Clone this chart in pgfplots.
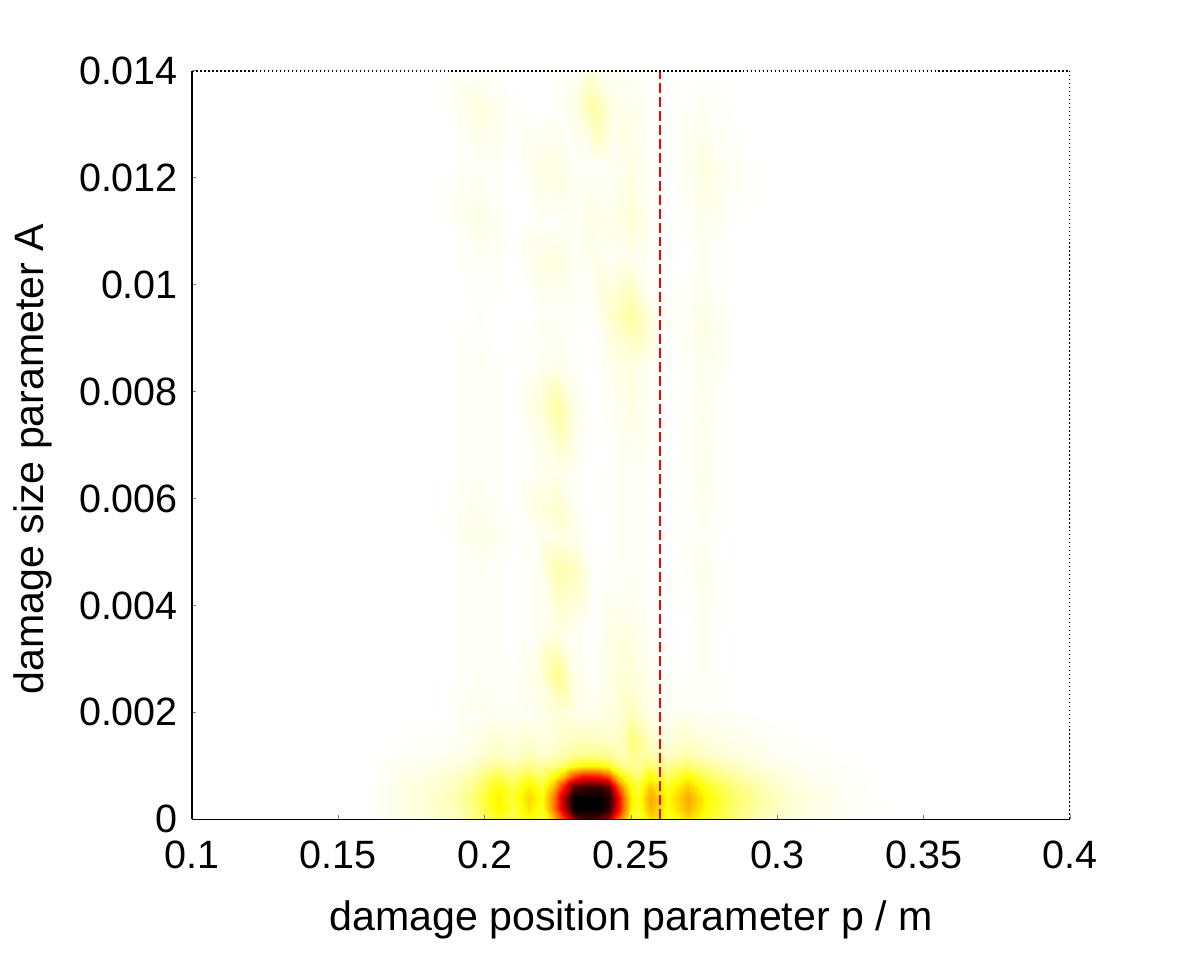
\documentclass[border=0pt]{standalone}
\usepackage{fontspec}
\setmainfont{Liberation Sans}
\usepackage{pgfplots}
\pgfplotsset{compat=1.18}

\begin{document}
\begin{tikzpicture}
\begin{axis}[
  name=ax,
  scale only axis,
  width=220pt, height=187.5pt,
  xmin=0.1, xmax=0.4, ymin=0, ymax=0.014,
  xtick={0.1,0.15,0.2,0.25,0.3,0.35,0.4},
  ytick={0,0.002,0.004,0.006,0.008,0.01,0.012,0.014},
  scaled ticks=false,
  /pgf/number format/assume math mode=true,
  xticklabel style={/pgf/number format/fixed, /pgf/number format/precision=2, yshift=-1.75pt},
  yticklabel style={/pgf/number format/fixed, /pgf/number format/precision=3},
  tick label style={font=\fontsize{9.9}{11}\selectfont},
  label style={font=\fontsize{10.3}{12}\selectfont},
  xlabel style={yshift=-1.3pt},
  ylabel style={xshift=-3.5pt},
  xlabel={damage position parameter p / m},
  ylabel={damage size parameter A},
  axis x line*=bottom, axis y line*=left,
  xtick pos=left, ytick pos=left,
  tick align=inside, major tick length=1pt,
  axis line style={line width=0.4pt},
  axis on top,
  colormap={hotr}{rgb(0pt)=(1,1,1); rgb(2pt)=(1,1,0); rgb(5pt)=(1,0,0); rgb(8pt)=(0,0,0)},
  point meta min=0, point meta max=1,
]
% lower band, fine grid
\addplot[surf, shader=interp, mesh/cols=29, point meta=explicit] coordinates {
(0.16,0)[0] (0.17,0)[0.02] (0.18,0)[0.03] (0.19,0)[0.06] (0.196,0)[0.1] (0.2045,0)[0.22] (0.2095,0)[0.16] (0.215,0)[0.25] (0.2195,0)[0.18] (0.2235,0)[0.35] (0.227,0)[0.55] (0.2305,0)[0.8] (0.2335,0)[0.9] (0.2365,0)[0.9] (0.2395,0)[0.88] (0.2425,0)[0.78] (0.245,0)[0.52] (0.2475,0)[0.35] (0.25,0)[0.22] (0.2525,0)[0.18] (0.2565,0)[0.3] (0.2625,0)[0.2] (0.2695,0)[0.3] (0.276,0)[0.2] (0.285,0)[0.12] (0.295,0)[0.06] (0.305,0)[0.03] (0.32,0)[0.01] (0.34,0)[0]
(0.16,0.0002)[0] (0.17,0.0002)[0.02] (0.18,0.0002)[0.04] (0.19,0.0002)[0.07] (0.196,0.0002)[0.12] (0.2045,0.0002)[0.26] (0.2095,0.0002)[0.19] (0.215,0.0002)[0.29] (0.2195,0.0002)[0.22] (0.2235,0.0002)[0.45] (0.227,0.0002)[0.72] (0.2305,0.0002)[1] (0.2335,0.0002)[1] (0.2365,0.0002)[1] (0.2395,0.0002)[1] (0.2425,0.0002)[0.93] (0.245,0.0002)[0.7] (0.2475,0.0002)[0.45] (0.25,0.0002)[0.26] (0.2525,0.0002)[0.21] (0.2565,0.0002)[0.36] (0.2625,0.0002)[0.24] (0.2695,0.0002)[0.36] (0.276,0.0002)[0.24] (0.285,0.0002)[0.14] (0.295,0.0002)[0.08] (0.305,0.0002)[0.04] (0.32,0.0002)[0.01] (0.34,0.0002)[0]
(0.16,0.0004)[0] (0.17,0.0004)[0.02] (0.18,0.0004)[0.04] (0.19,0.0004)[0.07] (0.196,0.0004)[0.13] (0.2045,0.0004)[0.27] (0.2095,0.0004)[0.2] (0.215,0.0004)[0.31] (0.2195,0.0004)[0.23] (0.2235,0.0004)[0.45] (0.227,0.0004)[0.75] (0.2305,0.0004)[1] (0.2335,0.0004)[1] (0.2365,0.0004)[1] (0.2395,0.0004)[1] (0.2425,0.0004)[0.95] (0.245,0.0004)[0.72] (0.2475,0.0004)[0.45] (0.25,0.0004)[0.27] (0.2525,0.0004)[0.22] (0.2565,0.0004)[0.38] (0.2625,0.0004)[0.25] (0.2695,0.0004)[0.38] (0.276,0.0004)[0.25] (0.285,0.0004)[0.15] (0.295,0.0004)[0.08] (0.305,0.0004)[0.04] (0.32,0.0004)[0.015] (0.34,0.0004)[0]
(0.16,0.0006)[0] (0.17,0.0006)[0.02] (0.18,0.0006)[0.035] (0.19,0.0006)[0.06] (0.196,0.0006)[0.11] (0.2045,0.0006)[0.24] (0.2095,0.0006)[0.18] (0.215,0.0006)[0.27] (0.2195,0.0006)[0.2] (0.2235,0.0006)[0.36] (0.227,0.0006)[0.6] (0.2305,0.0006)[0.88] (0.2335,0.0006)[0.92] (0.2365,0.0006)[0.92] (0.2395,0.0006)[0.92] (0.2425,0.0006)[0.85] (0.245,0.0006)[0.58] (0.2475,0.0006)[0.36] (0.25,0.0006)[0.24] (0.2525,0.0006)[0.19] (0.2565,0.0006)[0.33] (0.2625,0.0006)[0.22] (0.2695,0.0006)[0.33] (0.276,0.0006)[0.22] (0.285,0.0006)[0.13] (0.295,0.0006)[0.07] (0.305,0.0006)[0.035] (0.32,0.0006)[0.01] (0.34,0.0006)[0]
(0.16,0.0008)[0] (0.17,0.0008)[0.015] (0.18,0.0008)[0.03] (0.19,0.0008)[0.05] (0.196,0.0008)[0.085] (0.2045,0.0008)[0.18] (0.2095,0.0008)[0.13] (0.215,0.0008)[0.2] (0.2195,0.0008)[0.15] (0.2235,0.0008)[0.24] (0.227,0.0008)[0.36] (0.2305,0.0008)[0.54] (0.2335,0.0008)[0.62] (0.2365,0.0008)[0.62] (0.2395,0.0008)[0.6] (0.2425,0.0008)[0.52] (0.245,0.0008)[0.35] (0.2475,0.0008)[0.24] (0.25,0.0008)[0.18] (0.2525,0.0008)[0.14] (0.2565,0.0008)[0.25] (0.2625,0.0008)[0.16] (0.2695,0.0008)[0.25] (0.276,0.0008)[0.16] (0.285,0.0008)[0.1] (0.295,0.0008)[0.05] (0.305,0.0008)[0.026] (0.32,0.0008)[0.01] (0.34,0.0008)[0]
(0.16,0.001)[0] (0.17,0.001)[0.01] (0.18,0.001)[0.02] (0.19,0.001)[0.03] (0.196,0.001)[0.05] (0.2045,0.001)[0.11] (0.2095,0.001)[0.08] (0.215,0.001)[0.12] (0.2195,0.001)[0.09] (0.2235,0.001)[0.12] (0.227,0.001)[0.16] (0.2305,0.001)[0.22] (0.2335,0.001)[0.26] (0.2365,0.001)[0.26] (0.2395,0.001)[0.25] (0.2425,0.001)[0.22] (0.245,0.001)[0.16] (0.2475,0.001)[0.12] (0.25,0.001)[0.11] (0.2525,0.001)[0.09] (0.2565,0.001)[0.15] (0.2625,0.001)[0.1] (0.2695,0.001)[0.15] (0.276,0.001)[0.1] (0.285,0.001)[0.06] (0.295,0.001)[0.03] (0.305,0.001)[0.016] (0.32,0.001)[0.006] (0.34,0.001)[0]
(0.16,0.0012)[0] (0.17,0.0012)[0.005] (0.18,0.0012)[0.01] (0.19,0.0012)[0.015] (0.196,0.0012)[0.03] (0.2045,0.0012)[0.06] (0.2095,0.0012)[0.045] (0.215,0.0012)[0.07] (0.2195,0.0012)[0.05] (0.2235,0.0012)[0.06] (0.227,0.0012)[0.08] (0.2305,0.0012)[0.1] (0.2335,0.0012)[0.11] (0.2365,0.0012)[0.11] (0.2395,0.0012)[0.11] (0.2425,0.0012)[0.1] (0.245,0.0012)[0.08] (0.2475,0.0012)[0.07] (0.25,0.0012)[0.11] (0.2525,0.0012)[0.1] (0.2565,0.0012)[0.08] (0.2625,0.0012)[0.055] (0.2695,0.0012)[0.08] (0.276,0.0012)[0.055] (0.285,0.0012)[0.035] (0.295,0.0012)[0.02] (0.305,0.0012)[0.01] (0.32,0.0012)[0.003] (0.34,0.0012)[0]
(0.16,0.0015)[0] (0.17,0.0015)[0.003] (0.18,0.0015)[0.005] (0.19,0.0015)[0.01] (0.196,0.0015)[0.02] (0.2045,0.0015)[0.04] (0.2095,0.0015)[0.03] (0.215,0.0015)[0.04] (0.2195,0.0015)[0.03] (0.2235,0.0015)[0.035] (0.227,0.0015)[0.05] (0.2305,0.0015)[0.06] (0.2335,0.0015)[0.06] (0.2365,0.0015)[0.06] (0.2395,0.0015)[0.06] (0.2425,0.0015)[0.05] (0.245,0.0015)[0.05] (0.2475,0.0015)[0.07] (0.25,0.0015)[0.13] (0.2525,0.0015)[0.11] (0.2565,0.0015)[0.05] (0.2625,0.0015)[0.03] (0.2695,0.0015)[0.05] (0.276,0.0015)[0.03] (0.285,0.0015)[0.02] (0.295,0.0015)[0.01] (0.305,0.0015)[0.005] (0.32,0.0015)[0] (0.34,0.0015)[0]
(0.16,0.002)[0] (0.17,0.002)[0] (0.18,0.002)[0] (0.19,0.002)[0.003] (0.196,0.002)[0.006] (0.2045,0.002)[0.012] (0.2095,0.002)[0.012] (0.215,0.002)[0.012] (0.2195,0.002)[0.02] (0.2235,0.002)[0.03] (0.227,0.002)[0.035] (0.2305,0.002)[0.02] (0.2335,0.002)[0.02] (0.2365,0.002)[0.02] (0.2395,0.002)[0.02] (0.2425,0.002)[0.03] (0.245,0.002)[0.035] (0.2475,0.002)[0.045] (0.25,0.002)[0.06] (0.2525,0.002)[0.05] (0.2565,0.002)[0.02] (0.2625,0.002)[0.012] (0.2695,0.002)[0.012] (0.276,0.002)[0.012] (0.285,0.002)[0.006] (0.295,0.002)[0.003] (0.305,0.002)[0] (0.32,0.002)[0] (0.34,0.002)[0]
};
% upper region, coarse grid
\addplot[surf, shader=interp, mesh/cols=14, point meta=explicit] coordinates {
(0.185,0.002)[0] (0.198,0.002)[0.02] (0.21,0.002)[0.01] (0.218,0.002)[0.02] (0.225,0.002)[0.04] (0.231,0.002)[0.02] (0.237,0.002)[0.02] (0.2435,0.002)[0.03] (0.25,0.002)[0.06] (0.26,0.002)[0.01] (0.268,0.002)[0.01] (0.275,0.002)[0.01] (0.283,0.002)[0.005] (0.295,0.002)[0]
(0.185,0.0027)[0] (0.198,0.0027)[0.01] (0.21,0.0027)[0.005] (0.218,0.0027)[0.025] (0.225,0.0027)[0.11] (0.231,0.0027)[0.02] (0.237,0.0027)[0.005] (0.2435,0.0027)[0.03] (0.25,0.0027)[0.04] (0.26,0.0027)[0.005] (0.268,0.0027)[0.005] (0.275,0.0027)[0.01] (0.283,0.0027)[0] (0.295,0.0027)[0]
(0.185,0.0035)[0] (0.198,0.0035)[0.01] (0.21,0.0035)[0] (0.218,0.0035)[0.01] (0.225,0.0035)[0.025] (0.231,0.0035)[0.01] (0.237,0.0035)[0] (0.2435,0.0035)[0.025] (0.25,0.0035)[0.025] (0.26,0.0035)[0] (0.268,0.0035)[0] (0.275,0.0035)[0.01] (0.283,0.0035)[0] (0.295,0.0035)[0]
(0.185,0.0047)[0] (0.198,0.0047)[0.01] (0.21,0.0047)[0] (0.218,0.0047)[0.01] (0.225,0.0047)[0.08] (0.231,0.0047)[0.06] (0.237,0.0047)[0] (0.2435,0.0047)[0.005] (0.25,0.0047)[0.01] (0.26,0.0047)[0] (0.268,0.0047)[0.005] (0.275,0.0047)[0.02] (0.283,0.0047)[0] (0.295,0.0047)[0]
(0.185,0.0053)[0] (0.198,0.0053)[0.025] (0.21,0.0053)[0.005] (0.218,0.0053)[0.01] (0.225,0.0053)[0.025] (0.231,0.0053)[0.02] (0.237,0.0053)[0] (0.2435,0.0053)[0.005] (0.25,0.0053)[0.01] (0.26,0.0053)[0] (0.268,0.0053)[0.005] (0.275,0.0053)[0.01] (0.283,0.0053)[0] (0.295,0.0053)[0]
(0.185,0.0058)[0] (0.198,0.0058)[0.02] (0.21,0.0058)[0] (0.218,0.0058)[0.03] (0.225,0.0058)[0.05] (0.231,0.0058)[0.01] (0.237,0.0058)[0] (0.2435,0.0058)[0.005] (0.25,0.0058)[0.01] (0.26,0.0058)[0] (0.268,0.0058)[0.005] (0.275,0.0058)[0.015] (0.283,0.0058)[0] (0.295,0.0058)[0]
(0.185,0.0065)[0] (0.198,0.0065)[0.01] (0.21,0.0065)[0] (0.218,0.0065)[0.01] (0.225,0.0065)[0.02] (0.231,0.0065)[0.005] (0.237,0.0065)[0] (0.2435,0.0065)[0.005] (0.25,0.0065)[0.01] (0.26,0.0065)[0] (0.268,0.0065)[0.005] (0.275,0.0065)[0.02] (0.283,0.0065)[0] (0.295,0.0065)[0]
(0.185,0.0077)[0] (0.198,0.0077)[0.01] (0.21,0.0077)[0] (0.218,0.0077)[0.03] (0.225,0.0077)[0.09] (0.231,0.0077)[0.02] (0.237,0.0077)[0] (0.2435,0.0077)[0.01] (0.25,0.0077)[0.025] (0.26,0.0077)[0] (0.268,0.0077)[0.005] (0.275,0.0077)[0.015] (0.283,0.0077)[0] (0.295,0.0077)[0]
(0.185,0.0085)[0] (0.198,0.0085)[0.01] (0.21,0.0085)[0] (0.218,0.0085)[0.01] (0.225,0.0085)[0.02] (0.231,0.0085)[0.005] (0.237,0.0085)[0] (0.2435,0.0085)[0.02] (0.25,0.0085)[0.03] (0.26,0.0085)[0] (0.268,0.0085)[0.005] (0.275,0.0085)[0.02] (0.283,0.0085)[0.005] (0.295,0.0085)[0]
(0.185,0.0094)[0] (0.198,0.0094)[0.005] (0.21,0.0094)[0] (0.218,0.0094)[0.005] (0.225,0.0094)[0.01] (0.231,0.0094)[0.005] (0.237,0.0094)[0.005] (0.2435,0.0094)[0.05] (0.25,0.0094)[0.09] (0.26,0.0094)[0.005] (0.268,0.0094)[0.01] (0.275,0.0094)[0.025] (0.283,0.0094)[0.005] (0.295,0.0094)[0]
(0.185,0.0105)[0] (0.198,0.0105)[0.01] (0.21,0.0105)[0] (0.218,0.0105)[0.025] (0.225,0.0105)[0.03] (0.231,0.0105)[0.01] (0.237,0.0105)[0.02] (0.2435,0.0105)[0.01] (0.25,0.0105)[0.02] (0.26,0.0105)[0] (0.268,0.0105)[0] (0.275,0.0105)[0.01] (0.283,0.0105)[0] (0.295,0.0105)[0]
(0.185,0.0112)[0] (0.198,0.0112)[0.025] (0.21,0.0112)[0] (0.218,0.0112)[0.005] (0.225,0.0112)[0.01] (0.231,0.0112)[0.01] (0.237,0.0112)[0.025] (0.2435,0.0112)[0.02] (0.25,0.0112)[0.04] (0.26,0.0112)[0] (0.268,0.0112)[0.005] (0.275,0.0112)[0.02] (0.283,0.0112)[0.005] (0.295,0.0112)[0]
(0.185,0.0122)[0] (0.198,0.0122)[0.01] (0.21,0.0122)[0] (0.218,0.0122)[0.025] (0.225,0.0122)[0.03] (0.231,0.0122)[0.01] (0.237,0.0122)[0.005] (0.2435,0.0122)[0.01] (0.25,0.0122)[0.025] (0.26,0.0122)[0] (0.268,0.0122)[0.01] (0.275,0.0122)[0.03] (0.283,0.0122)[0.01] (0.295,0.0122)[0]
(0.185,0.0133)[0] (0.198,0.0133)[0.03] (0.21,0.0133)[0.005] (0.218,0.0133)[0] (0.225,0.0133)[0.005] (0.231,0.0133)[0.025] (0.237,0.0133)[0.09] (0.2435,0.0133)[0.025] (0.25,0.0133)[0.02] (0.26,0.0133)[0] (0.268,0.0133)[0.005] (0.275,0.0133)[0.01] (0.283,0.0133)[0.005] (0.295,0.0133)[0]
(0.185,0.014)[0] (0.198,0.014)[0.01] (0.21,0.014)[0] (0.218,0.014)[0] (0.225,0.014)[0.005] (0.231,0.014)[0.01] (0.237,0.014)[0.03] (0.2435,0.014)[0.01] (0.25,0.014)[0.01] (0.26,0.014)[0] (0.268,0.014)[0] (0.275,0.014)[0.005] (0.283,0.014)[0] (0.295,0.014)[0]
};
% true damage position
\addplot[red, line width=0.5pt, dash pattern=on 2.5pt off 1pt] coordinates {(0.26,0) (0.26,0.014)};
\draw[line width=0.4pt, dash pattern=on 0.4pt off 0.6pt] (rel axis cs:0,1) -- (rel axis cs:1,1) -- (rel axis cs:1,0);
\end{axis}
\path ([shift={(-47.5pt,-31.25pt)}]ax.south west) rectangle ([shift={(28pt,17.75pt)}]ax.north east);
\end{tikzpicture}
\end{document}
